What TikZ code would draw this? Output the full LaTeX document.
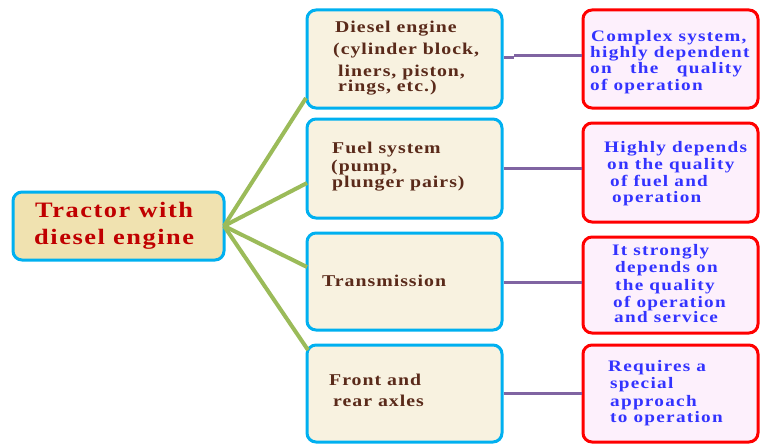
\documentclass[tikz,border=0pt]{standalone}
\usepackage{fontspec}
\setmainfont{Liberation Serif}
\newfontfamily\lfont[FakeStretch=1.2,LetterSpace=7]{Liberation Serif}
\newfontfamily\mfont[FakeStretch=1.2,LetterSpace=6]{Liberation Serif}
\newfontfamily\rfont[FakeStretch=1.2,LetterSpace=8]{Liberation Serif}
\definecolor{bblue}{HTML}{00B0F0}
\definecolor{lfill}{HTML}{F0E2B0}
\definecolor{mfill}{HTML}{F8F2E0}
\definecolor{rfill}{HTML}{FDF0FC}
\definecolor{rred}{HTML}{FF0000}
\definecolor{ltext}{HTML}{C00000}
\definecolor{mtext}{HTML}{5A2A1A}
\definecolor{rtext}{HTML}{3333FF}
\definecolor{gline}{HTML}{9BBB59}
\definecolor{pline}{HTML}{8064A2}
\begin{document}
\begin{tikzpicture}[x=1pt,y=-1pt,
  leftbox/.style={draw=bblue,line width=3pt,fill=lfill,rounded corners=9pt},
  midbox/.style={draw=bblue,line width=3pt,fill=mfill,rounded corners=9pt},
  rightbox/.style={draw=rred,line width=3pt,fill=rfill,rounded corners=9pt},
  lt/.style={anchor=base west,inner sep=0pt,text=ltext,font=\lfont\bfseries\fontsize{22}{24}\selectfont},
  mt/.style={anchor=base west,inner sep=0pt,text=mtext,font=\mfont\bfseries\fontsize{16.5}{18}\selectfont},
  rt/.style={anchor=base west,inner sep=0pt,text=rtext,font=\rfont\bfseries\fontsize{16}{17}\selectfont},
  gl/.style={draw=gline,line width=4pt},
  pl/.style={draw=pline,line width=3pt}]
\useasboundingbox (0,0) rectangle (760,444);
% boxes
\node[leftbox,minimum width=211pt,minimum height=68pt] (L) at (118.5,226) {};
\node[midbox,minimum width=195pt,minimum height=98pt] (M1) at (404.5,59) {};
\node[midbox,minimum width=195pt,minimum height=99pt] (M2) at (404.5,168.5) {};
\node[midbox,minimum width=195pt,minimum height=97pt] (M3) at (404.5,281.5) {};
\node[midbox,minimum width=195pt,minimum height=97pt] (M4) at (404.5,393.5) {};
\node[rightbox,minimum width=175pt,minimum height=98pt] (R1) at (670.5,59) {};
\node[rightbox,minimum width=175pt,minimum height=99pt] (R2) at (670.5,172.5) {};
\node[rightbox,minimum width=175pt,minimum height=96pt] (R3) at (670.5,285) {};
\node[rightbox,minimum width=175pt,minimum height=97pt] (R4) at (670.5,393.5) {};
% connectors
\coordinate (hub) at (224,226);
\coordinate (e1) at (306,98);
\coordinate (e2) at (307,183);
\coordinate (e3) at (307,267);
\coordinate (e4) at (308,350);
\draw[gl] (hub) -- (e1);
\draw[gl] (hub) -- (e2);
\draw[gl] (hub) -- (e3);
\draw[gl] (hub) -- (e4);
\coordinate (p1) at (514,57.3);
\coordinate (p2) at (514,55.3);
\draw[pl] (M1.east |- p1) -- (p1);
\draw[pl] (p2) -- (R1.west |- p2);
\draw[pl] (M2.east |- 0,168) -- (R2.west |- 0,168);
\draw[pl] (M3.east |- 0,282) -- (R3.west |- 0,282);
\draw[pl] (M4.east |- 0,393) -- (R4.west |- 0,393);
% left text
\node[lt] (l1) at (35,217) {Tractor with};
\node[lt] (l2) at (34,244) {diesel engine};
% middle texts
\node[mt] (a1) at (335,33) {Diesel engine};
\node[mt] (a2) at (333,55) {(cylinder block,};
\node[mt] (a3) at (338,76.5) {liners, piston,};
\node[mt] (a4) at (338,92) {rings, etc.)};
\node[mt] (b1) at (332,153) {Fuel system};
\node[mt] (b2) at (331,171) {(pump,};
\node[mt] (b3) at (332,187.5) {plunger pairs)};
\node[mt] (c1) at (322,286) {Transmission};
\node[mt] (d1) at (329,385) {Front and};
\node[mt] (d2) at (333,406) {rear axles};
% right texts
\node[rt] (r11) at (591,42) {Complex system,};
\node[rt] (r12) at (590,58) {highly dependent};
\node[rt] (r13) at (590,74) {\hbox to 152pt{on\hfill the\hfill quality}};
\node[rt] (r14) at (590,90) {of operation};
\node[rt] (r21) at (604,152) {Highly depends};
\node[rt] (r22) at (607,169) {on the quality};
\node[rt] (r23) at (610,186) {of fuel and};
\node[rt] (r24) at (612,202.5) {operation};
\node[rt] (r31) at (612,255) {It strongly};
\node[rt] (r32) at (615,272) {depends on};
\node[rt] (r33) at (615,290) {the quality};
\node[rt] (r34) at (613,307) {of operation};
\node[rt] (r35) at (614,322) {and service};
\node[rt] (r41) at (608,371) {Requires a};
\node[rt] (r42) at (610,388) {special};
\node[rt] (r43) at (610,406) {approach};
\node[rt] (r44) at (610,422) {to operation};
\end{tikzpicture}
\end{document}
